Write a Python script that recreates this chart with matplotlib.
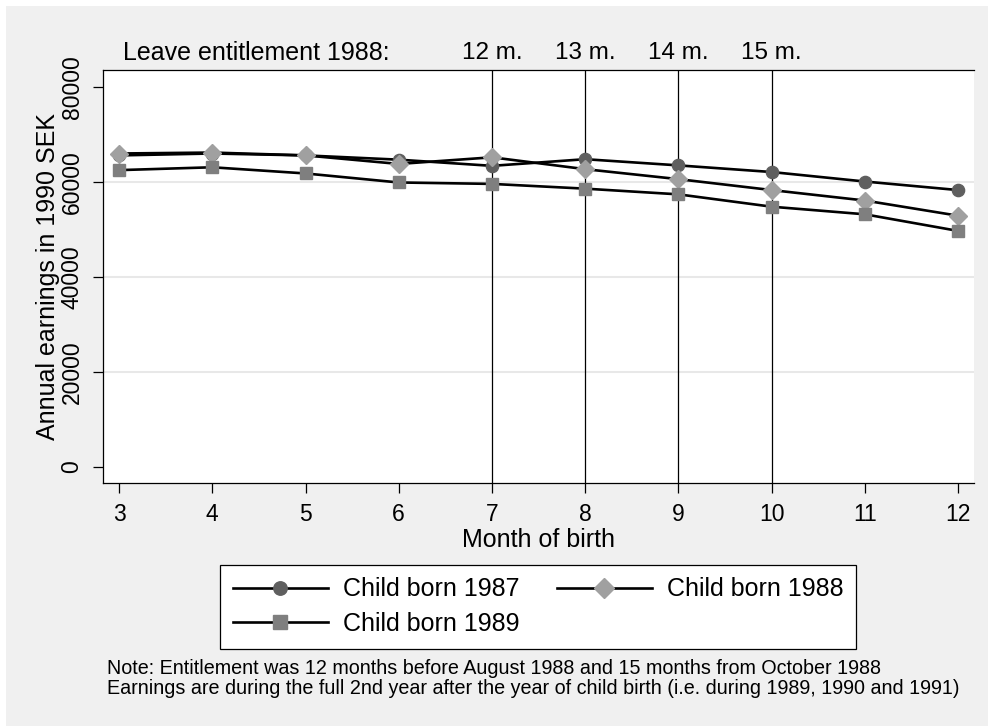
import numpy as np
import matplotlib
matplotlib.use('Agg')
import matplotlib.pyplot as plt
from matplotlib.patches import Rectangle

plt.rcParams['font.family'] = ['Liberation Sans', 'DejaVu Sans']

# Data
months = [3, 4, 5, 6, 7, 8, 9, 10, 11, 12]
born_1987 = [65600, 66000, 65600, 64700, 63400, 64800, 63500, 62100, 60100, 58300]
born_1988 = [66000, 66200, 65600, 63800, 65200, 62700, 60600, 58300, 56100, 52900]
born_1989 = [62500, 63100, 61800, 59900, 59600, 58600, 57400, 54800, 53200, 49700]

leave_months = [7, 8, 9, 10]
leave_labels = ['12 m.', '13 m.', '14 m.', '15 m.']
y_ticks = [0, 20000, 40000, 60000, 80000]

W, H = 988, 726
fig = plt.figure(figsize=(W / 100, H / 100), dpi=100, facecolor='white')

# grey outer background like Stata
fig.patches.append(Rectangle((6 / W, 0), 1 - 6 / W, 1 - 6 / H, transform=fig.transFigure,
                             facecolor='#f0f0f0', edgecolor='none', zorder=-10))

left, right, top, bottom = 103, 974, 70, 483
ax = fig.add_axes([left / W, 1 - bottom / H, (right - left) / W, (bottom - top) / H])
ax.set_facecolor('white')

ax.set_xlim(2.828, 12.17)
ax.set_ylim(-3370, 83580)

# gridlines at inner ticks only
for v in [20000, 40000, 60000]:
    ax.axhline(v, color='#e8e8e8', lw=1.5, zorder=0)

for m in leave_months:
    ax.axvline(m, color='black', lw=0.9, zorder=1)

lw = 1.9
l87, = ax.plot(months, born_1987, color='black', lw=lw, marker='o', ms=8.8,
               mfc='#5f5f5f', mec='#5f5f5f', zorder=3, label='Child born 1987')
l88, = ax.plot(months, born_1988, color='black', lw=lw, marker='D', ms=9.2,
               mfc='#a0a0a0', mec='#a0a0a0', zorder=3, label='Child born 1988')
l89, = ax.plot(months, born_1989, color='black', lw=lw, marker='s', ms=8.6,
               mfc='#7f7f7f', mec='#7f7f7f', zorder=3, label='Child born 1989')

ax.set_xticks(months)
ax.set_xticklabels([str(m) for m in months])
ax.set_yticks(y_ticks)
ax.set_yticklabels([str(v) for v in y_ticks], rotation=90, va='center')
ax.tick_params(axis='x', length=7, width=0.9, labelsize=16.5, pad=7.5)
ax.tick_params(axis='y', length=7, width=0.9, labelsize=16.5, pad=7)

ax.spines['right'].set_visible(False)
for s in ['left', 'bottom', 'top']:
    ax.spines[s].set_linewidth(0.9)
    ax.spines[s].set_color('black')

# labels above the plot
ax.text(123 / W, 1 - 53 / H, 'Leave entitlement 1988:', transform=fig.transFigure,
        ha='left', va='center', fontsize=18)
for m, lab in zip(leave_months, leave_labels):
    ax.text(m, 1 + (top - 53) / (bottom - top), lab, transform=ax.get_xaxis_transform(),
            ha='center', va='center', fontsize=17.5)

fig.text(48 / W, 1 - 276 / H, 'Annual earnings in 1990 SEK', rotation=90,
         ha='center', va='center', fontsize=18)
fig.text(538 / W, 1 - 540 / H, 'Month of birth', ha='center', va='center', fontsize=18)

leg = fig.legend([l87, l89, l88], ['Child born 1987', 'Child born 1989', 'Child born 1988'],
                 ncol=2, loc='upper center', bbox_to_anchor=(538 / W, 1 - 565 / H),
                 fontsize=18, frameon=True, fancybox=False, edgecolor='black',
                 facecolor='white', framealpha=1, handlelength=3.8, handletextpad=0.6,
                 columnspacing=1.5, labelspacing=0.42, borderpad=0.5, borderaxespad=0,
                 markerscale=1.1)
leg.get_frame().set_linewidth(0.9)

fig.text(107 / W, 1 - 669 / H,
         'Note: Entitlement was 12 months before August 1988 and 15 months from October 1988',
         ha='left', va='center', fontsize=14.2)
fig.text(107 / W, 1 - 689 / H,
         'Earnings are during the full 2nd year after the year of child birth '
         '(i.e. during 1989, 1990 and 1991)',
         ha='left', va='center', fontsize=14.2)

fig.savefig('out.png', dpi=100, facecolor='white')
